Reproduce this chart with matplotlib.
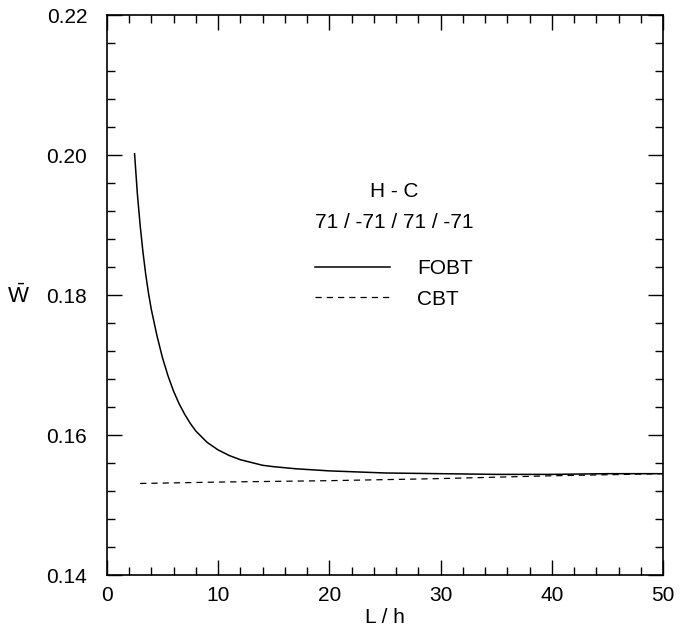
import numpy as np
import matplotlib.pyplot as plt

plt.rcParams['font.family'] = ['Liberation Sans', 'DejaVu Sans']
plt.rcParams['mathtext.fontset'] = 'custom'
plt.rcParams['mathtext.rm'] = 'Liberation Sans'

# FOBT curve
x_fobt = [2.5, 2.75, 3, 3.25, 3.5, 3.75, 4, 4.5, 5, 5.5, 6, 6.5, 7, 7.5, 8,
          9, 10, 11, 12, 13, 14, 15, 17, 20, 25, 30, 35, 40, 45, 50]
w_fobt = [0.2002, 0.1945, 0.1900, 0.1862, 0.1830, 0.1803, 0.1780, 0.1743,
          0.1711, 0.1685, 0.1663, 0.1645, 0.1630, 0.1617, 0.1606, 0.1590,
          0.1579, 0.1571, 0.1565, 0.1561, 0.1557, 0.1555, 0.1552, 0.1549,
          0.1546, 0.1545, 0.1544, 0.1544, 0.1545, 0.1545]

# CBT curve
x_cbt = [3, 10, 20, 30, 40, 50]
w_cbt = [0.1531, 0.1533, 0.1535, 0.1538, 0.1542, 0.1545]

fig = plt.figure(figsize=(6.8, 6.3), dpi=100)
ax = fig.add_axes([0.157, 0.087, 0.818, 0.889])

ax.plot(x_fobt, w_fobt, color='black', lw=1.1, label='FOBT')
ax.plot(x_cbt, w_cbt, color='black', lw=0.9, ls=(0, (5, 4)), label='CBT')

ax.set_xlim(0, 50)
ax.set_ylim(0.14, 0.22)
ax.set_xticks(np.arange(0, 51, 10))
ax.set_xticks(np.arange(0, 51, 2), minor=True)
ax.set_yticks(np.arange(0.14, 0.2201, 0.02))
ax.set_yticks(np.arange(0.14, 0.2201, 0.004), minor=True)
ax.set_yticklabels(['0.14', '0.16', '0.18', '0.20', '0.22'])
ax.tick_params(which='both', direction='in', top=True, right=True,
               labelsize=15, width=1.0)
ax.tick_params(axis='y', pad=14)
ax.tick_params(axis='x', pad=8)
ax.tick_params(which='major', length=11)
ax.tick_params(which='minor', length=5.5)
for s in ax.spines.values():
    s.set_linewidth(1.2)

ax.set_xlabel('L / h', fontsize=15, labelpad=2)
ax.set_ylabel(r'$\bar{\mathrm{W}}$', fontsize=16, rotation=0,
              va='center', ha='center')
ax.yaxis.set_label_coords(-0.158, 0.497)

leg = ax.legend(title='H - C\n71 / -71 / 71 / -71', frameon=False,
                fontsize=15, title_fontsize=15, handlelength=3.6,
                handletextpad=1.3, labelspacing=0.55, alignment='center',
                loc='upper left', bbox_to_anchor=(0.34, 0.735))
leg.get_title().set_multialignment('center')
leg.get_title().set_linespacing(1.75)
leg._legend_box.sep = 20

fig.savefig('out.png', dpi=100)
